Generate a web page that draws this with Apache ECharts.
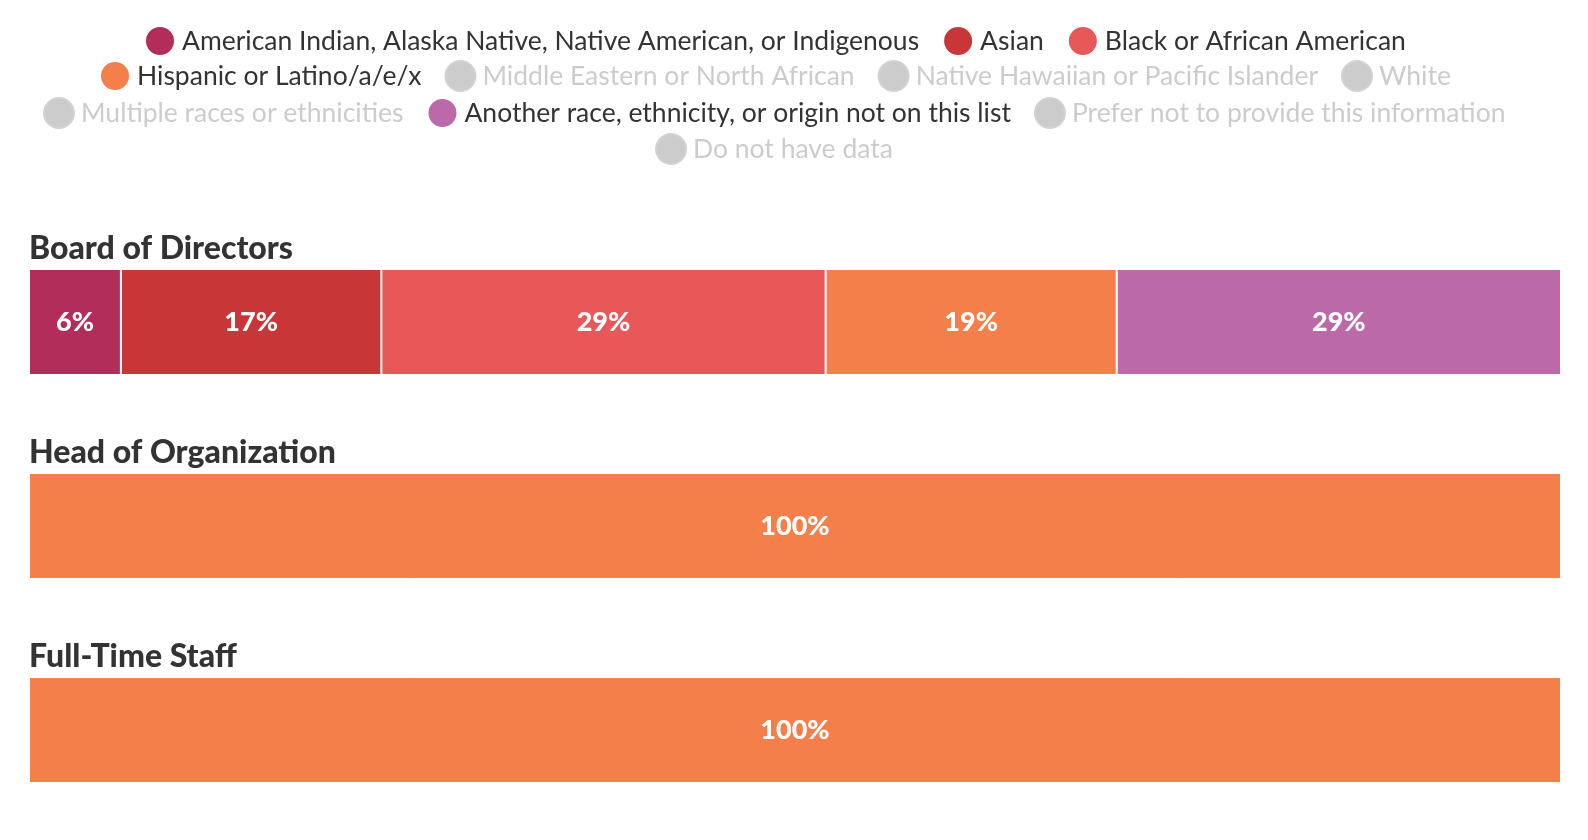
<!DOCTYPE html>
<html lang="en">
<head>
    <meta charset="UTF-8">
    <title>Race and ethnicity</title>
    <style>
        body { margin: 0; padding: 0; background: #fff; }
        #chart { width: 1588px; height: 840px; }
    </style>
</head>
<body>
    <div id="chart"></div>
    <script src="https://cdn.jsdelivr.net/npm/echarts@6/dist/echarts.min.js"></script>
    <script>
        var FONT = 'Lato, "Source Sans Pro", "Noto Sans", sans-serif';

        // groups shown as rows of bars
        var groups = ['Board of Directors', 'Head of Organization', 'Full-Time Staff'];

        // one entry per race / ethnicity, values in % for each group
        var names = [
            'American Indian, Alaska Native, Native American, or Indigenous',
            'Asian',
            'Black or African American',
            'Hispanic or Latino/a/e/x',
            'Middle Eastern or North African',
            'Native Hawaiian or Pacific Islander',
            'White',
            'Multiple races or ethnicities',
            'Another race, ethnicity, or origin not on this list',
            'Prefer not to provide this information',
            'Do not have data'
        ];
        var amIndian = [6, 0, 0];
        var asian = [17, 0, 0];
        var black = [29, 0, 0];
        var hispanic = [19, 100, 100];
        var mena = [0, 0, 0];
        var nhpi = [0, 0, 0];
        var white = [0, 0, 0];
        var multiple = [0, 0, 0];
        var another = [29, 0, 0];
        var preferNot = [0, 0, 0];
        var noData = [0, 0, 0];

        var values = [amIndian, asian, black, hispanic, mena, nhpi, white, multiple, another, preferNot, noData];
        var colors = ['#b22d59', '#c93637', '#e85859', '#f57f4a', '#ccc', '#ccc', '#ccc', '#ccc', '#bc69a9', '#ccc', '#ccc'];
        // categories with no data are greyed out in the legend
        var inactive = [4, 5, 6, 7, 9, 10];

        // legend rows (indexes into names)
        var legendRows = [[0, 1, 2], [3, 4, 5, 6], [7, 8, 9], [10]];
        var legendTops = [20, 55, 92, 128];
        var legendCenter = 773; // rows are centred a little left of the page middle

        var ICON = 30, GAP = 23, FS = 26.5, TXT_PAD = 2;

        var chart = echarts.init(document.getElementById('chart'));

        // measure text so each legend row can be centred on legendCenter
        var ctx = document.createElement('canvas').getContext('2d');
        ctx.font = FS + 'px ' + FONT;
        function rowWidth(row) {
            var w = 0;
            row.forEach(function (i, k) {
                w += ICON + 5 + TXT_PAD + ctx.measureText(names[i]).width;
                if (k > 0) w += GAP;
            });
            return w;
        }

        var selected = {};
        names.forEach(function (n, i) {
            selected[n] = inactive.indexOf(i) < 0;
        });

        var legends = legendRows.map(function (row, r) {
            var sel = {};
            row.forEach(function (i) { sel[names[i]] = selected[names[i]]; });
            return {
                left: Math.round(legendCenter - rowWidth(row) / 2) - 5,
                top: legendTops[r],
                icon: 'circle',
                itemWidth: ICON,
                itemHeight: ICON,
                itemGap: GAP,
                inactiveColor: '#ccc',
                selectedMode: false,
                textStyle: { fontFamily: FONT, fontSize: FS, color: '#333', padding: [0, 0, 0, TXT_PAD] },
                data: row.map(function (i) { return names[i]; }),
                selected: sel
            };
        });

        var titleTops = [228, 432, 636];
        var titles = groups.map(function (g, i) {
            return {
                text: g,
                left: 24,
                top: titleTops[i],
                textStyle: { fontFamily: FONT, fontSize: 32, fontWeight: 900, color: '#333' }
            };
        });

        var series = names.map(function (n, i) {
            return {
                name: n,
                type: 'bar',
                stack: 'total',
                barWidth: 106,
                itemStyle: { color: colors[i], borderColor: '#fff', borderWidth: 1 },
                label: {
                    show: true,
                    color: '#fff',
                    fontFamily: FONT,
                    fontSize: 27,
                    fontWeight: 900,
                    formatter: function (p) { return p.value ? p.value + '%' : ''; }
                },
                data: values[i].map(function (v) { return v ? v : null; })
            };
        });

        var option = {
            animation: false,
            title: titles,
            legend: legends,
            grid: { left: 29, right: 27, top: 220, height: 612 },
            xAxis: { type: 'value', min: 0, max: 100, show: false },
            yAxis: { type: 'category', inverse: true, data: groups, show: false },
            series: series
        };

        chart.setOption(option);
    </script>
</body>
</html>
